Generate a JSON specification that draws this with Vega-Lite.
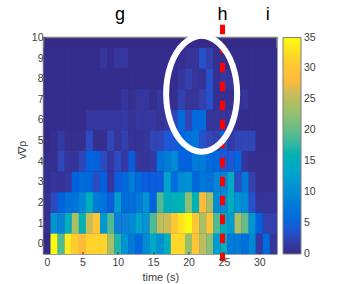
{"$schema":"https://vega.github.io/schema/vega-lite/v6.json","width":233.5,"height":216.5,"autosize":{"type":"none"},"padding":{"left":43.5,"top":37.5,"right":79,"bottom":30},"background":"white","view":{"fill":"#352a87","stroke":"#7f7f7f","strokeWidth":1.5},
"datasets":{"cells":[
{"t":0,"v":0,"z":0},{"t":1,"v":0,"z":35},{"t":2,"v":0,"z":19},{"t":3,"v":0,"z":33.5},{"t":4,"v":0,"z":31},{"t":5,"v":0,"z":28},{"t":6,"v":0,"z":31.5},{"t":7,"v":0,"z":31.5},{"t":8,"v":0,"z":31.5},{"t":9,"v":0,"z":24},{"t":10,"v":0,"z":17},{"t":11,"v":0,"z":11},{"t":12,"v":0,"z":8},{"t":13,"v":0,"z":5.5},{"t":14,"v":0,"z":10},{"t":15,"v":0,"z":14},{"t":16,"v":0,"z":10.5},{"t":17,"v":0,"z":15},{"t":18,"v":0,"z":32},{"t":19,"v":0,"z":32},{"t":20,"v":0,"z":23},{"t":21,"v":0,"z":30},{"t":22,"v":0,"z":25},{"t":23,"v":0,"z":22},{"t":24,"v":0,"z":12},{"t":25,"v":0,"z":15},{"t":26,"v":0,"z":8},{"t":27,"v":0,"z":8},{"t":28,"v":0,"z":6.5},{"t":29,"v":0,"z":9.5},{"t":30,"v":0,"z":1.5},{"t":31,"v":0,"z":6},{"t":32,"v":0,"z":1},
{"t":0,"v":1,"z":0.5},{"t":1,"v":1,"z":11},{"t":2,"v":1,"z":9},{"t":3,"v":1,"z":15},{"t":4,"v":1,"z":24},{"t":5,"v":1,"z":16},{"t":6,"v":1,"z":26},{"t":7,"v":1,"z":30},{"t":8,"v":1,"z":11.5},{"t":9,"v":1,"z":19},{"t":10,"v":1,"z":8.5},{"t":11,"v":1,"z":8.5},{"t":12,"v":1,"z":10},{"t":13,"v":1,"z":13},{"t":14,"v":1,"z":11},{"t":15,"v":1,"z":19},{"t":16,"v":1,"z":25},{"t":17,"v":1,"z":26},{"t":18,"v":1,"z":30},{"t":19,"v":1,"z":33},{"t":20,"v":1,"z":35},{"t":21,"v":1,"z":30},{"t":22,"v":1,"z":24},{"t":23,"v":1,"z":30},{"t":24,"v":1,"z":19},{"t":25,"v":1,"z":15},{"t":26,"v":1,"z":12},{"t":27,"v":1,"z":24},{"t":28,"v":1,"z":20},{"t":29,"v":1,"z":11},{"t":30,"v":1,"z":5},{"t":31,"v":1,"z":2},{"t":32,"v":1,"z":2},
{"t":0,"v":2,"z":0.5},{"t":1,"v":2,"z":3},{"t":2,"v":2,"z":5},{"t":3,"v":2,"z":7},{"t":4,"v":2,"z":7},{"t":5,"v":2,"z":9.5},{"t":6,"v":2,"z":15},{"t":7,"v":2,"z":8},{"t":8,"v":2,"z":7},{"t":9,"v":2,"z":4.5},{"t":10,"v":2,"z":12},{"t":11,"v":2,"z":6.5},{"t":12,"v":2,"z":6.5},{"t":13,"v":2,"z":8},{"t":14,"v":2,"z":11},{"t":15,"v":2,"z":5},{"t":16,"v":2,"z":19},{"t":17,"v":2,"z":15},{"t":18,"v":2,"z":15.5},{"t":19,"v":2,"z":16},{"t":20,"v":2,"z":22},{"t":21,"v":2,"z":16},{"t":22,"v":2,"z":28},{"t":23,"v":2,"z":24},{"t":24,"v":2,"z":10},{"t":25,"v":2,"z":10},{"t":26,"v":2,"z":15},{"t":27,"v":2,"z":11},{"t":28,"v":2,"z":10},{"t":29,"v":2,"z":3.5},{"t":30,"v":2,"z":1},{"t":31,"v":2,"z":1},{"t":32,"v":2,"z":1},
{"t":0,"v":3,"z":0.5},{"t":1,"v":3,"z":1},{"t":2,"v":3,"z":0.8},{"t":3,"v":3,"z":1.2},{"t":4,"v":3,"z":5},{"t":5,"v":3,"z":6},{"t":6,"v":3,"z":5.5},{"t":7,"v":3,"z":3},{"t":8,"v":3,"z":5},{"t":9,"v":3,"z":1.2},{"t":10,"v":3,"z":4.5},{"t":11,"v":3,"z":5.5},{"t":12,"v":3,"z":8},{"t":13,"v":3,"z":6},{"t":14,"v":3,"z":4.5},{"t":15,"v":3,"z":4.5},{"t":16,"v":3,"z":4.5},{"t":17,"v":3,"z":13},{"t":18,"v":3,"z":6.5},{"t":19,"v":3,"z":10},{"t":20,"v":3,"z":10.5},{"t":21,"v":3,"z":5.5},{"t":22,"v":3,"z":7.5},{"t":23,"v":3,"z":7},{"t":24,"v":3,"z":9},{"t":25,"v":3,"z":9},{"t":26,"v":3,"z":14},{"t":27,"v":3,"z":3},{"t":28,"v":3,"z":8},{"t":29,"v":3,"z":2},{"t":30,"v":3,"z":0.5},{"t":31,"v":3,"z":0.5},{"t":32,"v":3,"z":0.5},
{"t":0,"v":4,"z":0.5},{"t":1,"v":4,"z":0.5},{"t":2,"v":4,"z":2.5},{"t":3,"v":4,"z":1},{"t":4,"v":4,"z":1},{"t":5,"v":4,"z":2.5},{"t":6,"v":4,"z":5},{"t":7,"v":4,"z":5},{"t":8,"v":4,"z":3},{"t":9,"v":4,"z":1.2},{"t":10,"v":4,"z":3},{"t":11,"v":4,"z":1.5},{"t":12,"v":4,"z":4.5},{"t":13,"v":4,"z":1},{"t":14,"v":4,"z":1},{"t":15,"v":4,"z":1.5},{"t":16,"v":4,"z":7},{"t":17,"v":4,"z":8},{"t":18,"v":4,"z":10},{"t":19,"v":4,"z":5},{"t":20,"v":4,"z":5},{"t":21,"v":4,"z":8},{"t":22,"v":4,"z":8},{"t":23,"v":4,"z":6},{"t":24,"v":4,"z":5.5},{"t":25,"v":4,"z":4},{"t":26,"v":4,"z":4},{"t":27,"v":4,"z":5.5},{"t":28,"v":4,"z":1},{"t":29,"v":4,"z":0.5},{"t":30,"v":4,"z":0.5},{"t":31,"v":4,"z":0.5},{"t":32,"v":4,"z":0.5},
{"t":0,"v":5,"z":0},{"t":1,"v":5,"z":0.5},{"t":2,"v":5,"z":1.5},{"t":3,"v":5,"z":0.5},{"t":4,"v":5,"z":0.5},{"t":5,"v":5,"z":0.5},{"t":6,"v":5,"z":3},{"t":7,"v":5,"z":0.5},{"t":8,"v":5,"z":0.5},{"t":9,"v":5,"z":2.5},{"t":10,"v":5,"z":1},{"t":11,"v":5,"z":2},{"t":12,"v":5,"z":0.8},{"t":13,"v":5,"z":0.8},{"t":14,"v":5,"z":1},{"t":15,"v":5,"z":2.5},{"t":16,"v":5,"z":2.5},{"t":17,"v":5,"z":4},{"t":18,"v":5,"z":4},{"t":19,"v":5,"z":5},{"t":20,"v":5,"z":6.5},{"t":21,"v":5,"z":7.5},{"t":22,"v":5,"z":3.5},{"t":23,"v":5,"z":2.5},{"t":24,"v":5,"z":2},{"t":25,"v":5,"z":5},{"t":26,"v":5,"z":1.5},{"t":27,"v":5,"z":2.5},{"t":28,"v":5,"z":2.5},{"t":29,"v":5,"z":2.5},{"t":30,"v":5,"z":0.3},{"t":31,"v":5,"z":0.3},{"t":32,"v":5,"z":0.3},
{"t":0,"v":6,"z":0.3},{"t":1,"v":6,"z":0.3},{"t":2,"v":6,"z":0.3},{"t":3,"v":6,"z":0.3},{"t":4,"v":6,"z":0.3},{"t":5,"v":6,"z":0.3},{"t":6,"v":6,"z":1.2},{"t":7,"v":6,"z":1.2},{"t":8,"v":6,"z":1.2},{"t":9,"v":6,"z":1.2},{"t":10,"v":6,"z":1.2},{"t":11,"v":6,"z":1.5},{"t":12,"v":6,"z":0.8},{"t":13,"v":6,"z":1.3},{"t":14,"v":6,"z":1.3},{"t":15,"v":6,"z":1.3},{"t":16,"v":6,"z":0.8},{"t":17,"v":6,"z":1.2},{"t":18,"v":6,"z":2.5},{"t":19,"v":6,"z":6},{"t":20,"v":6,"z":2.5},{"t":21,"v":6,"z":6},{"t":22,"v":6,"z":6},{"t":23,"v":6,"z":1},{"t":24,"v":6,"z":1},{"t":25,"v":6,"z":1},{"t":26,"v":6,"z":1},{"t":27,"v":6,"z":0.5},{"t":28,"v":6,"z":0.3},{"t":29,"v":6,"z":0.3},{"t":30,"v":6,"z":0.3},{"t":31,"v":6,"z":0.3},{"t":32,"v":6,"z":0.3},
{"t":0,"v":7,"z":0.3},{"t":1,"v":7,"z":0.3},{"t":2,"v":7,"z":0.3},{"t":3,"v":7,"z":0.3},{"t":4,"v":7,"z":0.3},{"t":5,"v":7,"z":0.3},{"t":6,"v":7,"z":0.3},{"t":7,"v":7,"z":0.3},{"t":8,"v":7,"z":0.3},{"t":9,"v":7,"z":0.3},{"t":10,"v":7,"z":0.3},{"t":11,"v":7,"z":1.2},{"t":12,"v":7,"z":0.5},{"t":13,"v":7,"z":1.2},{"t":14,"v":7,"z":1.2},{"t":15,"v":7,"z":0.5},{"t":16,"v":7,"z":1.2},{"t":17,"v":7,"z":0.5},{"t":18,"v":7,"z":0.5},{"t":19,"v":7,"z":2},{"t":20,"v":7,"z":1},{"t":21,"v":7,"z":1},{"t":22,"v":7,"z":2},{"t":23,"v":7,"z":3.5},{"t":24,"v":7,"z":0.7},{"t":25,"v":7,"z":0.7},{"t":26,"v":7,"z":0.5},{"t":27,"v":7,"z":0.8},{"t":28,"v":7,"z":1},{"t":29,"v":7,"z":0.3},{"t":30,"v":7,"z":0.3},{"t":31,"v":7,"z":0.3},{"t":32,"v":7,"z":0.3},
{"t":0,"v":8,"z":0.3},{"t":1,"v":8,"z":0.3},{"t":2,"v":8,"z":0.3},{"t":3,"v":8,"z":0.3},{"t":4,"v":8,"z":0.3},{"t":5,"v":8,"z":0.3},{"t":6,"v":8,"z":0.3},{"t":7,"v":8,"z":0.3},{"t":8,"v":8,"z":0.3},{"t":9,"v":8,"z":0.3},{"t":10,"v":8,"z":0.3},{"t":11,"v":8,"z":0.3},{"t":12,"v":8,"z":0.3},{"t":13,"v":8,"z":0.3},{"t":14,"v":8,"z":0.3},{"t":15,"v":8,"z":0.3},{"t":16,"v":8,"z":0.3},{"t":17,"v":8,"z":0.3},{"t":18,"v":8,"z":0.3},{"t":19,"v":8,"z":1},{"t":20,"v":8,"z":2},{"t":21,"v":8,"z":1},{"t":22,"v":8,"z":0.8},{"t":23,"v":8,"z":3.5},{"t":24,"v":8,"z":0.6},{"t":25,"v":8,"z":1.5},{"t":26,"v":8,"z":0.8},{"t":27,"v":8,"z":0.3},{"t":28,"v":8,"z":0.3},{"t":29,"v":8,"z":0.3},{"t":30,"v":8,"z":0.3},{"t":31,"v":8,"z":0.3},{"t":32,"v":8,"z":0.3},
{"t":0,"v":9,"z":0.3},{"t":1,"v":9,"z":0.3},{"t":2,"v":9,"z":0.3},{"t":3,"v":9,"z":0.3},{"t":4,"v":9,"z":0.3},{"t":5,"v":9,"z":0.3},{"t":6,"v":9,"z":0.3},{"t":7,"v":9,"z":0.3},{"t":8,"v":9,"z":1.2},{"t":9,"v":9,"z":0.3},{"t":10,"v":9,"z":1.2},{"t":11,"v":9,"z":1.2},{"t":12,"v":9,"z":0.3},{"t":13,"v":9,"z":0.3},{"t":14,"v":9,"z":0.3},{"t":15,"v":9,"z":0.3},{"t":16,"v":9,"z":0.3},{"t":17,"v":9,"z":0.3},{"t":18,"v":9,"z":0.3},{"t":19,"v":9,"z":0.6},{"t":20,"v":9,"z":0.8},{"t":21,"v":9,"z":1},{"t":22,"v":9,"z":3.5},{"t":23,"v":9,"z":2},{"t":24,"v":9,"z":0.5},{"t":25,"v":9,"z":0.5},{"t":26,"v":9,"z":0.3},{"t":27,"v":9,"z":0.3},{"t":28,"v":9,"z":0.3},{"t":29,"v":9,"z":0.3},{"t":30,"v":9,"z":0.3},{"t":31,"v":9,"z":0.3},{"t":32,"v":9,"z":0.3}
],
"ring":[{"i":0,"t":26.87,"v":7.27},{"i":1,"t":26.7,"v":8.0},{"i":2,"t":26.2,"v":8.675},{"i":3,"t":25.4,"v":9.26},{"i":4,"t":24.36,"v":9.7},{"i":5,"t":23.15,"v":9.98},{"i":6,"t":21.85,"v":10.08},{"i":7,"t":20.55,"v":9.98},{"i":8,"t":19.34,"v":9.7},{"i":9,"t":18.3,"v":9.26},{"i":10,"t":17.5,"v":8.675},{"i":11,"t":17.0,"v":8.0},{"i":12,"t":16.83,"v":7.27},{"i":13,"t":17.0,"v":6.54},{"i":14,"t":17.5,"v":5.865},{"i":15,"t":18.3,"v":5.28},{"i":16,"t":19.34,"v":4.84},{"i":17,"t":20.55,"v":4.56},{"i":18,"t":21.85,"v":4.46},{"i":19,"t":23.15,"v":4.56},{"i":20,"t":24.36,"v":4.84},{"i":21,"t":25.4,"v":5.28},{"i":22,"t":26.2,"v":5.865},{"i":23,"t":26.7,"v":6.54}],
"marker":[{"i":0,"t":24.8,"v":10.62},{"i":1,"t":24.8,"v":-0.85}],
"letters":[{"t":10.3,"v":11.07,"s":"g"},{"t":24.8,"v":11.07,"s":"h"},{"t":31.2,"v":11.07,"s":"i"}],
"ylab":[{"t":-3.45,"v":4.55,"s":"v∇ρ"}]},
"encoding":{
"x":{"field":"t","type":"quantitative","scale":{"domain":[-0.5,32.5],"nice":false,"zero":false},"axis":{"values":[0,5,10,15,20,25,30],"title":"time (s)","titleFont":"Liberation Sans","titleFontWeight":"normal","titleFontSize":11,"titleColor":"#404040","titlePadding":3,"labelFont":"Liberation Sans","labelFontSize":10.5,"labelColor":"#404040","labelPadding":6,"tickSize":-2.5,"tickColor":"#404040","domain":false,"grid":false,"zindex":1,"labelAngle":0,"labelOverlap":false}},
"y":{"field":"v","type":"quantitative","scale":{"domain":[-0.5,10],"nice":false,"zero":false},"axis":{"values":[0,1,2,3,4,5,6,7,8,9,10],"title":null,"labelFont":"Liberation Sans","labelFontSize":10.5,"labelColor":"#404040","labelPadding":3,"tickSize":-2.5,"tickColor":"#404040","domain":false,"grid":false,"zindex":1,"labelOverlap":false}}
},
"layer":[
{"data":{"name":"cells"},"mark":{"type":"rect","width":7.25,"height":20.8,"clip":true},"encoding":{
"color":{"field":"z","type":"quantitative","scale":{"domain":[0,4.375,8.75,13.125,17.5,21.875,26.25,28,30.625,35],"range":["#352a87","#0f5cdd","#1481d6","#06a4ca","#2eb7a4","#87bf77","#d1bb59","#feba3a","#fec832","#f9fb0e"]},"legend":{"orient":"none","legendX":239.5,"legendY":0,"title":null,"gradientLength":216.5,"gradientThickness":18,"gradientStrokeColor":"#7f7f7f","gradientStrokeWidth":1,"values":[0,5,10,15,20,25,30,35],"labelFont":"Liberation Sans","labelFontSize":10.5,"labelColor":"#404040","labelOffset":3,"labelOverlap":false,"direction":"vertical","encode":{"labels":{"update":{"baseline":{"value":"middle"}}}}}}
}},
{"data":{"name":"marker"},"mark":{"type":"line","color":"#ff0000","strokeWidth":5,"strokeDash":[9.5,9.5],"clip":false},"encoding":{"order":{"field":"i","type":"quantitative"}}},
{"data":{"name":"ring"},"mark":{"type":"line","color":"#ffffff","strokeWidth":6,"interpolate":"cardinal-closed","clip":false},"encoding":{"order":{"field":"i","type":"quantitative"}}},
{"data":{"name":"letters"},"mark":{"type":"text","font":"Liberation Sans","fontSize":18,"color":"#000000","align":"center","baseline":"middle","clip":false},"encoding":{"text":{"field":"s"}}},
{"data":{"name":"ylab"},"mark":{"type":"text","font":"Liberation Sans","fontSize":10.5,"color":"#404040","angle":270,"align":"center","baseline":"middle","clip":false},"encoding":{"text":{"field":"s"}}}
]}
